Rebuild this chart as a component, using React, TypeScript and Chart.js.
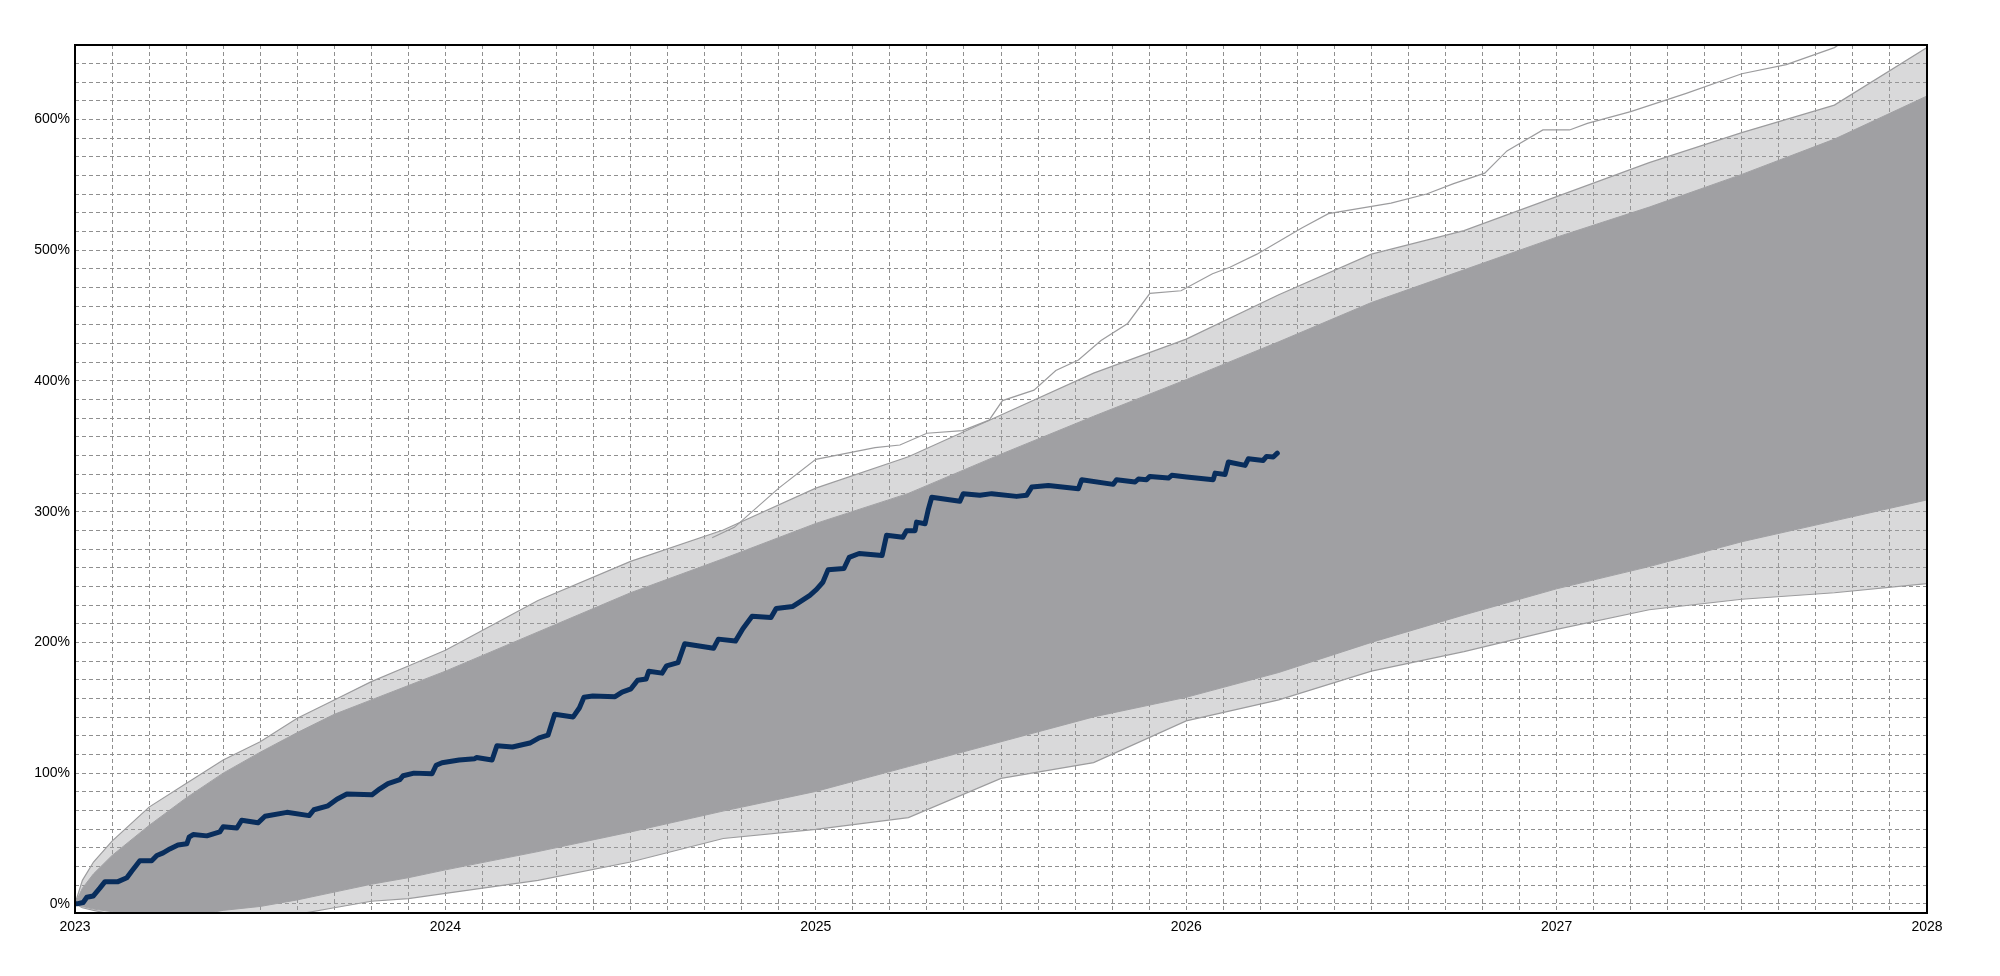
import React, { useEffect, useRef } from "react";
import { Chart, registerables } from "chart.js";

Chart.register(...registerables);

// ---- Axis labels ----
const X_LABEL_YEARS = [2023, 2024, 2025, 2026, 2027, 2028];
const X_TICK_LABELS = ["2023", "2024", "2025", "2026", "2027", "2028"];
const Y_LABEL_VALUES = [0, 100, 200, 300, 400, 500, 600];
const Y_TICK_LABELS = ["0%", "100%", "200%", "300%", "400%", "500%", "600%"];

// ---- Simulation fan ----
const BAND_YEARS = [2023, 2023.02, 2023.05, 2023.1, 2023.2, 2023.3, 2023.4, 2023.5, 2023.6, 2023.7, 2023.8, 2023.9, 2024, 2024.25, 2024.5, 2024.75, 2025, 2025.25, 2025.5, 2025.75, 2026, 2026.25, 2026.5, 2026.75, 2027, 2027.25, 2027.5, 2027.75, 2028];
const UPPER_FRINGE = [0, 18, 32, 48, 74, 92, 110, 124, 142, 156, 170, 182, 194, 232, 262, 286, 318, 342, 374, 406, 432, 466, 497, 515, 541, 567, 590, 611, 655];
const DENSE_UPPER = [0, 12, 23, 37, 60, 81, 100, 116, 131, 145, 156, 167, 178, 208, 238, 264, 291, 314, 344, 373, 401, 430, 460, 485, 510, 533, 558, 585, 618];
const DENSE_LOWER = [0, -2, -4, -6, -12, -10, -5, -2, 3, 9, 15, 20, 26, 40, 55, 71, 86, 105, 124, 143, 158, 177, 200, 221, 241, 258, 277, 293, 309];
const LOWER_FRINGE = [0, -3, -5, -8, -20, -20, -20, -15, -8, -3, 2, 4, 8, 18, 32, 50, 57, 66, 96, 108, 140, 156, 178, 193, 210, 225, 233, 238, 245];

// single extreme upper simulation path
const TOP_PATH: [number, number][] = [
  [2024.72, 280], [2024.78, 288], [2024.9, 318], [2025.0, 340], [2025.16, 349],
  [2025.227, 351], [2025.3, 360], [2025.396, 362], [2025.468, 370], [2025.504, 385], [2025.589, 393],
  [2025.648, 408], [2025.709, 416], [2025.77, 431], [2025.842, 444], [2025.902, 467], [2025.986, 469],
  [2026.071, 482], [2026.118, 487], [2026.191, 497], [2026.312, 517], [2026.384, 528], [2026.553, 536],
  [2026.649, 543], [2026.722, 551], [2026.806, 559], [2026.866, 576], [2026.963, 592], [2027.035, 592],
  [2027.083, 597], [2027.2, 606], [2027.35, 620], [2027.5, 635], [2027.62, 642], [2027.75, 655], [2027.82, 668],
];

// ---- Actual cumulative return ----
const ACTUAL_PATH: [number, number][] = [
  [2023.0, 0], [2023.005, 0], [2023.022, 1], [2023.032, 5], [2023.049, 6], [2023.067, 12],
  [2023.081, 17], [2023.116, 17], [2023.14, 20], [2023.153, 25], [2023.175, 33], [2023.207, 33],
  [2023.221, 37], [2023.238, 39], [2023.256, 42], [2023.278, 45], [2023.302, 46], [2023.308, 51],
  [2023.319, 53], [2023.356, 52], [2023.391, 55], [2023.4, 59], [2023.437, 58], [2023.45, 64],
  [2023.494, 62], [2023.513, 67], [2023.572, 70], [2023.632, 67.5], [2023.645, 72], [2023.683, 75],
  [2023.707, 80], [2023.734, 84], [2023.802, 83.5], [2023.823, 88], [2023.845, 92], [2023.877, 95],
  [2023.886, 98], [2023.915, 100], [2023.964, 99.5], [2023.975, 106], [2023.991, 108], [2024.037, 110],
  [2024.079, 111], [2024.084, 112], [2024.126, 110], [2024.139, 121], [2024.181, 120], [2024.228, 123],
  [2024.253, 127], [2024.277, 129], [2024.295, 145], [2024.345, 143], [2024.362, 150], [2024.374, 158],
  [2024.398, 159], [2024.458, 158.5], [2024.477, 162], [2024.501, 164.5], [2024.519, 171], [2024.542, 172],
  [2024.549, 178], [2024.585, 176.5], [2024.597, 182], [2024.628, 184.5], [2024.646, 199], [2024.724, 195.5],
  [2024.737, 202.5], [2024.783, 201], [2024.803, 210.5], [2024.828, 220], [2024.879, 219], [2024.893, 226],
  [2024.938, 227.5], [2024.957, 231], [2024.984, 236], [2025.002, 240.5], [2025.019, 246], [2025.033, 255.5],
  [2025.076, 256.5], [2025.09, 265], [2025.117, 268], [2025.179, 266.5], [2025.191, 282], [2025.235, 280.5],
  [2025.245, 285.5], [2025.268, 285.5], [2025.272, 292], [2025.295, 290.8], [2025.304, 302], [2025.313, 311],
  [2025.389, 308], [2025.398, 313.8], [2025.443, 312.5], [2025.475, 313.8], [2025.542, 311.7], [2025.569, 312.5],
  [2025.583, 318.8], [2025.628, 320], [2025.709, 317.6], [2025.718, 324.5], [2025.803, 320.9], [2025.812, 324.5],
  [2025.862, 322.7], [2025.871, 325], [2025.893, 324.5], [2025.902, 327], [2025.952, 325.7], [2025.961, 327.8],
  [2026.001, 326.5], [2026.073, 324.5], [2026.078, 329.5], [2026.105, 328.5], [2026.114, 338], [2026.159, 335.4],
  [2026.168, 340.5], [2026.208, 339.2], [2026.217, 342.3], [2026.235, 341.8], [2026.246, 344.8],
];

const X_MIN = 2023;
const X_MAX = 2028;
const Y_MIN = -7;
const Y_MAX = 657;

const SIM_GRAY = "#a0a0a3";
const FRINGE_GRAY = "rgba(160,160,163,0.4)";
const EDGE_GRAY = "#9c9c9e";
const ACTUAL_BLUE = "#082d5c";
const GRID_GRAY = "#8f8f8f";

const band = (vals: number[]) => BAND_YEARS.map((x, i) => ({ x, y: vals[i] }));
const pairs = (p: [number, number][]) => p.map(([x, y]) => ({ x, y }));

const frame = {
  id: "frame",
  afterDraw(chart: any) {
    const { ctx, chartArea } = chart;
    ctx.save();
    ctx.strokeStyle = "#000";
    ctx.lineWidth = 2;
    ctx.strokeRect(chartArea.left, chartArea.top, chartArea.right - chartArea.left, chartArea.bottom - chartArea.top);
    ctx.restore();
  },
};

export default function App() {
  const ref = useRef<HTMLCanvasElement | null>(null);

  useEffect(() => {
    if (!ref.current) return;
    const xTicks: number[] = [];
    for (let j = 0; j <= 50; j++) xTicks.push(X_MIN + j / 10);
    const yTicks: number[] = [];
    for (let k = 0; k * (100 / 7) <= Y_MAX; k++) yTicks.push((k * 100) / 7);

    const chart = new Chart(ref.current, {
      type: "line",
      data: {
        datasets: [
          {
            label: "Actual",
            data: pairs(ACTUAL_PATH),
            borderColor: ACTUAL_BLUE,
            borderWidth: 5,
            borderJoinStyle: "round",
            borderCapStyle: "round",
            pointRadius: 0,
            fill: false,
            order: 0,
          },
          {
            label: "Top path",
            data: pairs(TOP_PATH),
            borderColor: EDGE_GRAY,
            borderWidth: 1.2,
            pointRadius: 0,
            fill: false,
            order: 1,
          },
          {
            label: "Upper fringe",
            data: band(UPPER_FRINGE),
            borderColor: EDGE_GRAY,
            borderWidth: 1.2,
            backgroundColor: FRINGE_GRAY,
            pointRadius: 0,
            fill: { target: 3 },
            order: 3,
          },
          {
            label: "Dense upper",
            data: band(DENSE_UPPER),
            borderColor: SIM_GRAY,
            borderWidth: 1,
            backgroundColor: SIM_GRAY,
            pointRadius: 0,
            fill: { target: 4 },
            order: 2,
          },
          {
            label: "Dense lower",
            data: band(DENSE_LOWER),
            borderColor: SIM_GRAY,
            borderWidth: 1,
            pointRadius: 0,
            fill: false,
            order: 2,
          },
          {
            label: "Lower fringe",
            data: band(LOWER_FRINGE),
            borderColor: EDGE_GRAY,
            borderWidth: 1.2,
            backgroundColor: FRINGE_GRAY,
            pointRadius: 0,
            fill: { target: 4 },
            order: 3,
          },
        ],
      },
      options: {
        responsive: false,
        animation: false,
        events: [],
        layout: { padding: { left: 0, top: 45, right: 73, bottom: 0 } },
        plugins: { legend: { display: false }, tooltip: { enabled: false } },
        scales: {
          x: {
            type: "linear",
            min: X_MIN,
            max: X_MAX,
            afterFit: (s: any) => { s.height = 63; },
            afterBuildTicks: (s: any) => { s.ticks = xTicks.map((v) => ({ value: v })); },
            ticks: {
              autoSkip: false,
              maxRotation: 0,
              padding: 6,
              color: "#000",
              font: { family: "'Liberation Sans', Arial, sans-serif", size: 14 },
              callback: (v: any) => {
                const i = X_LABEL_YEARS.findIndex((yr) => Math.abs(yr - Number(v)) < 1e-6);
                return i >= 0 ? X_TICK_LABELS[i] : "";
              },
            },
            grid: { color: GRID_GRAY, lineWidth: 1, drawTicks: false },
            border: { display: false, dash: [4, 3] },
          },
          y: {
            type: "linear",
            min: Y_MIN,
            max: Y_MAX,
            afterFit: (s: any) => { s.width = 75; },
            afterBuildTicks: (s: any) => { s.ticks = yTicks.map((v) => ({ value: v })); },
            ticks: {
              autoSkip: false,
              padding: 5,
              color: "#000",
              font: { family: "'Liberation Sans', Arial, sans-serif", size: 14 },
              callback: (v: any) => {
                const i = Y_LABEL_VALUES.findIndex((yv) => Math.abs(yv - Number(v)) < 1e-6);
                return i >= 0 ? Y_TICK_LABELS[i] : "";
              },
            },
            grid: { color: GRID_GRAY, lineWidth: 1, drawTicks: false },
            border: { display: false, dash: [4, 3] },
          },
        },
      },
      plugins: [frame],
    });
    return () => chart.destroy();
  }, []);

  return (
    <div style={{ position: "absolute", left: 0, top: 0, width: 2000, height: 976, background: "#fff" }}>
      <canvas ref={ref} width={2000} height={976} style={{ width: 2000, height: 976, display: "block" }} />
    </div>
  );
}
